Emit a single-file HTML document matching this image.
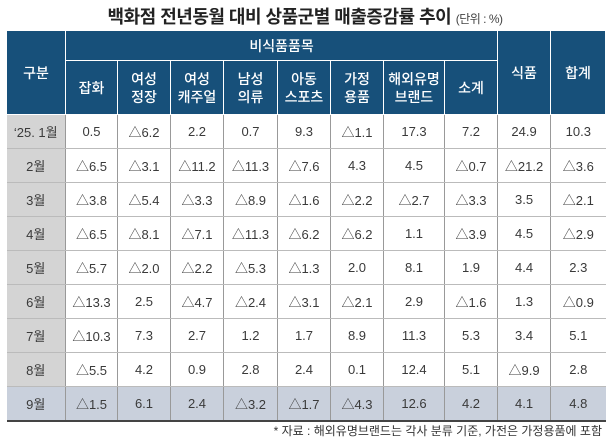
<!DOCTYPE html>
<html><head><meta charset="utf-8"><style>
body{margin:0;width:610px;height:441px;background:#fff;font-family:"Liberation Sans","Noto Sans CJK KR",sans-serif;position:relative;overflow:hidden}
#title{position:absolute;top:3px;left:0;width:610px;text-align:center;font-size:18px;font-weight:bold;color:#222;letter-spacing:-0.5px}
#title span{font-size:12px;font-weight:normal;color:#444}
table{position:absolute;left:6px;top:30px;width:599px;border-collapse:collapse;table-layout:fixed}
th{background:#17507a;color:#fff;font-weight:500;font-size:14px;border:1.5px solid #fff;line-height:18px;padding:0}
td{height:33px;border-bottom:1px solid #bbb;border-left:1px solid #999;text-align:center;font-size:13px;color:#3a3a3a;padding:0}
td.m{background:#d4d4d4;border-left:none}
tr.last td{background:#c9d0dc;border-bottom:2px solid #444}
#note{position:absolute;top:422px;right:8px;font-size:12px;color:#333}
</style></head><body>
<div id="title">백화점 전년동월 대비 상품군별 매출증감률 추이 <span>(단위 : %)</span></div>
<table>
<colgroup><col style="width:59px"><col style="width:52px"><col style="width:53px"><col style="width:53px"><col style="width:54px"><col style="width:53px"><col style="width:53px"><col style="width:61px"><col style="width:53px"><col style="width:53px"><col style="width:55px"></colgroup>
<tr style="height:30px"><th rowspan="2">구분</th><th colspan="8">비식품품목</th><th rowspan="2">식품</th><th rowspan="2">합계</th></tr>
<tr style="height:54px"><th>잡화</th><th>여성<br>정장</th><th>여성<br>캐주얼</th><th>남성<br>의류</th><th>아동<br>스포츠</th><th>가정<br>용품</th><th>해외유명<br>브랜드</th><th>소계</th></tr>
<tr><td class="m">‘25. 1월</td><td>0.5</td><td>△6.2</td><td>2.2</td><td>0.7</td><td>9.3</td><td>△1.1</td><td>17.3</td><td>7.2</td><td>24.9</td><td>10.3</td></tr>
<tr><td class="m">2월</td><td>△6.5</td><td>△3.1</td><td>△11.2</td><td>△11.3</td><td>△7.6</td><td>4.3</td><td>4.5</td><td>△0.7</td><td>△21.2</td><td>△3.6</td></tr>
<tr><td class="m">3월</td><td>△3.8</td><td>△5.4</td><td>△3.3</td><td>△8.9</td><td>△1.6</td><td>△2.2</td><td>△2.7</td><td>△3.3</td><td>3.5</td><td>△2.1</td></tr>
<tr><td class="m">4월</td><td>△6.5</td><td>△8.1</td><td>△7.1</td><td>△11.3</td><td>△6.2</td><td>△6.2</td><td>1.1</td><td>△3.9</td><td>4.5</td><td>△2.9</td></tr>
<tr><td class="m">5월</td><td>△5.7</td><td>△2.0</td><td>△2.2</td><td>△5.3</td><td>△1.3</td><td>2.0</td><td>8.1</td><td>1.9</td><td>4.4</td><td>2.3</td></tr>
<tr><td class="m">6월</td><td>△13.3</td><td>2.5</td><td>△4.7</td><td>△2.4</td><td>△3.1</td><td>△2.1</td><td>2.9</td><td>△1.6</td><td>1.3</td><td>△0.9</td></tr>
<tr><td class="m">7월</td><td>△10.3</td><td>7.3</td><td>2.7</td><td>1.2</td><td>1.7</td><td>8.9</td><td>11.3</td><td>5.3</td><td>3.4</td><td>5.1</td></tr>
<tr><td class="m">8월</td><td>△5.5</td><td>4.2</td><td>0.9</td><td>2.8</td><td>2.4</td><td>0.1</td><td>12.4</td><td>5.1</td><td>△9.9</td><td>2.8</td></tr>
<tr class="last"><td class="m">9월</td><td>△1.5</td><td>6.1</td><td>2.4</td><td>△3.2</td><td>△1.7</td><td>△4.3</td><td>12.6</td><td>4.2</td><td>4.1</td><td>4.8</td></tr>
</table>
<div id="note">* 자료 : 해외유명브랜드는 각사 분류 기준, 가전은 가정용품에 포함</div>
</body></html>
